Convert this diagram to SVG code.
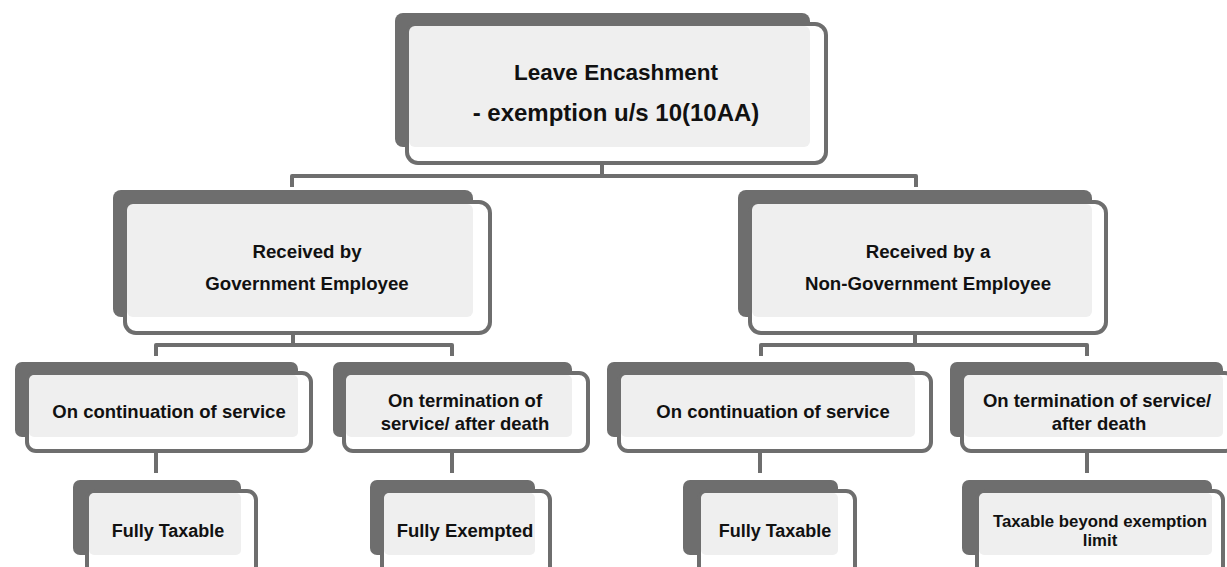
<svg xmlns="http://www.w3.org/2000/svg" width="1227" height="567" viewBox="0 0 1227 567">
<style>
.sh{fill:#6e6e6e}
.ol{fill:#ffffff;stroke:#6e6e6e;stroke-width:4}
.lt{fill:#efefef}
.t{font-family:"Liberation Sans",Arial,sans-serif;font-weight:bold;fill:#111;text-anchor:middle}
.c{fill:none;stroke:#6e6e6e;stroke-width:4;stroke-linejoin:round}
.ci{fill:none;stroke:#dadada;stroke-width:4}
</style>
<rect width="1227" height="567" fill="#ffffff"/>
<g id="connectors">
<path class="ci" d="M602,152 V162"/>
<path class="c" d="M602,165 V176 M292,187 V176 H916 V187"/>
<path class="ci" d="M293,322 V332 M915,322 V332"/>
<path class="c" d="M293,335 V345 M156,356 V345 H452 V356 M915,335 V345 M761,356 V345 H1087 V356"/>
<path class="ci" d="M156,441 V450 M452,441 V450 M760,441 V450 M1087,441 V450"/>
<path class="c" d="M156,453 V473 M452,453 V473 M760,453 V473 M1087,453 V473"/>
</g>
<g id="n-root">
<rect class="sh" x="395" y="13" width="415" height="134" rx="8"/>
<rect class="ol" x="407" y="24" width="419" height="139" rx="11"/>
<rect class="lt" x="409" y="26" width="401" height="121" rx="6"/>
<text class="t" x="616" y="80" font-size="22.5">Leave Encashment</text>
<text class="t" x="616" y="121" font-size="24">- exemption u/s 10(10AA)</text>
</g>
<g id="n-gov">
<rect class="sh" x="113" y="190" width="360" height="127" rx="8"/>
<rect class="ol" x="125" y="202" width="365" height="131" rx="11"/>
<rect class="lt" x="127" y="204" width="346" height="113" rx="6"/>
<text class="t" x="307" y="258" font-size="18.7">Received by</text>
<text class="t" x="307" y="290" font-size="18.7">Government Employee</text>
</g>
<g id="n-nongov">
<rect class="sh" x="738" y="190" width="354" height="127" rx="8"/>
<rect class="ol" x="750" y="202" width="356" height="131" rx="11"/>
<rect class="lt" x="752" y="204" width="340" height="113" rx="6"/>
<text class="t" x="928" y="258" font-size="18.7">Received by a</text>
<text class="t" x="928" y="290" font-size="18.7">Non-Government Employee</text>
</g>
<g id="n-gov-cont">
<rect class="sh" x="15" y="362" width="283" height="75" rx="7"/>
<rect class="ol" x="27" y="373" width="284" height="78" rx="9"/>
<rect class="lt" x="29" y="375" width="269" height="62" rx="5"/>
<text class="t" x="169" y="418" font-size="18.5">On continuation of service</text>
</g>
<g id="n-gov-term">
<rect class="sh" x="333" y="362" width="239" height="75" rx="7"/>
<rect class="ol" x="344" y="373" width="244" height="78" rx="9"/>
<rect class="lt" x="346" y="375" width="226" height="62" rx="5"/>
<text class="t" x="465" y="407" font-size="18.5">On termination of</text>
<text class="t" x="465" y="430" font-size="18.5">service/ after death</text>
</g>
<g id="n-ng-cont">
<rect class="sh" x="607" y="362" width="308" height="75" rx="7"/>
<rect class="ol" x="619" y="373" width="312" height="78" rx="9"/>
<rect class="lt" x="621" y="375" width="294" height="62" rx="5"/>
<text class="t" x="773" y="418" font-size="18.5">On continuation of service</text>
</g>
<g id="n-ng-term">
<rect class="sh" x="950" y="362" width="273" height="75" rx="7"/>
<rect class="ol" x="962" y="373" width="272" height="78" rx="9"/>
<rect class="lt" x="964" y="375" width="259" height="62" rx="5"/>
<text class="t" x="1097" y="407" font-size="18.5">On termination of service/</text>
<text class="t" x="1099" y="430" font-size="18.5">after death</text>
</g>
<g id="n-gov-cont-res">
<rect class="sh" x="73" y="480" width="168" height="75" rx="7"/>
<rect class="ol" x="87" y="491" width="169" height="90" rx="9"/>
<rect class="lt" x="89" y="493" width="152" height="62" rx="5"/>
<text class="t" x="168" y="537" font-size="18">Fully Taxable</text>
</g>
<g id="n-gov-term-res">
<rect class="sh" x="370" y="480" width="165" height="75" rx="7"/>
<rect class="ol" x="382" y="491" width="168" height="90" rx="9"/>
<rect class="lt" x="384" y="493" width="151" height="62" rx="5"/>
<text class="t" x="465" y="537" font-size="18.5">Fully Exempted</text>
</g>
<g id="n-ng-cont-res">
<rect class="sh" x="683" y="480" width="155" height="75" rx="7"/>
<rect class="ol" x="699" y="491" width="156" height="90" rx="9"/>
<rect class="lt" x="701" y="493" width="137" height="62" rx="5"/>
<text class="t" x="775" y="537" font-size="18">Fully Taxable</text>
</g>
<g id="n-ng-term-res">
<rect class="sh" x="962" y="480" width="250" height="75" rx="7"/>
<rect class="ol" x="977" y="491" width="246" height="90" rx="9"/>
<rect class="lt" x="979" y="493" width="233" height="62" rx="5"/>
<text class="t" x="1100" y="527" font-size="16.8">Taxable beyond exemption</text>
<text class="t" x="1100" y="546" font-size="16.8">limit</text>
</g>
</svg>
